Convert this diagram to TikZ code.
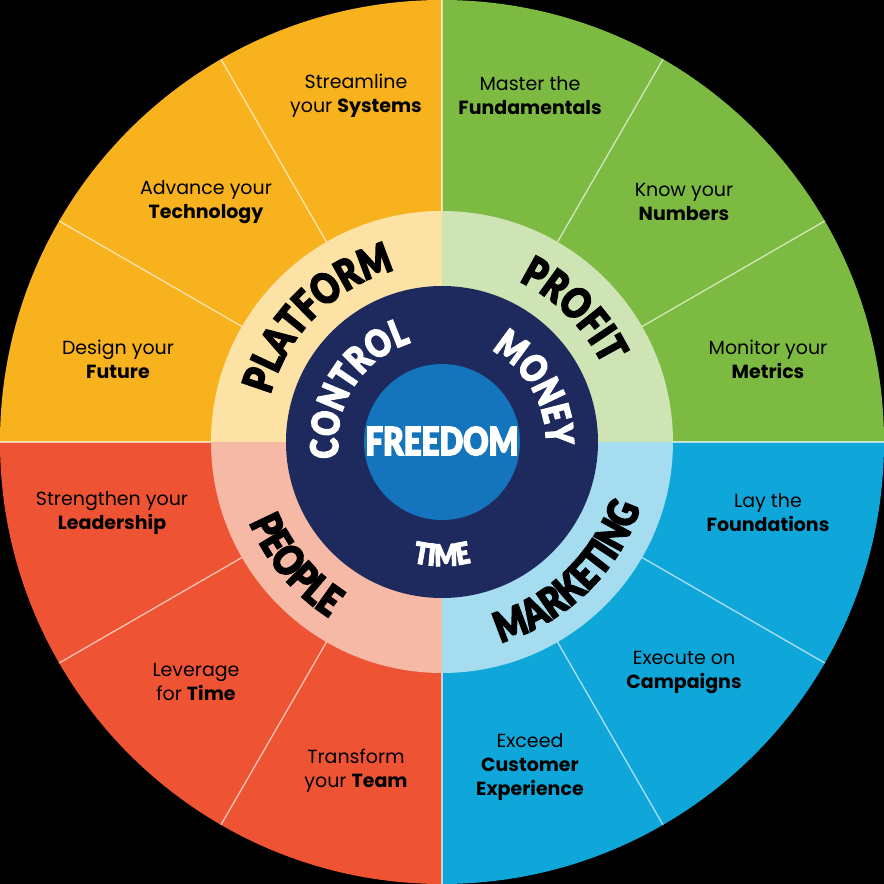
\documentclass[tikz,border=0pt]{standalone}
\usepackage{fontspec}
\setmainfont{Poppins}
\newfontfamily\headfont{Lato Black}[FakeStretch=0.8, FakeBold=3.2]
\usepackage{xcolor}
\usetikzlibrary{decorations.text}

\definecolor{platformcol}{RGB}{247,178,30}
\definecolor{profitcol}{RGB}{125,186,66}
\definecolor{marketcol}{RGB}{15,167,218}
\definecolor{peoplecol}{RGB}{238,84,52}
\definecolor{platformlt}{RGB}{252,226,165}
\definecolor{profitlt}{RGB}{207,228,181}
\definecolor{marketlt}{RGB}{165,220,240}
\definecolor{peoplelt}{RGB}{246,185,166}
\definecolor{navy}{RGB}{30,42,93}
\definecolor{freecol}{RGB}{20,117,188}

\begin{document}
\begin{tikzpicture}[x=1pt,y=1pt]

\tikzstyle{label} = [align=center, text=black, font=\fontsize{19}{24}\selectfont]
\tikzstyle{divider} = [white, opacity=0.65, line width=1.3pt]
\tikzstyle{ringword} = [decorate, decoration={text along path, text align=center}]

% background and bounding box
\fill[black] (-442,-442) rectangle (442,442);
\useasboundingbox (-442,-442) rectangle (442,442);

% outer quadrants
\fill[profitcol] (0,0) -- (0:442) arc (0:90:442) -- cycle;
\fill[platformcol] (0,0) -- (90:442) arc (90:180:442) -- cycle;
\fill[peoplecol] (0,0) -- (180:442) arc (180:270:442) -- cycle;
\fill[marketcol] (0,0) -- (270:442) arc (270:360:442) -- cycle;
\foreach \a in {0,30,...,330}
  \draw[divider] (\a:231) -- (\a:442);

% inner ring
\fill[profitlt] (0,0) -- (0:231) arc (0:90:231) -- cycle;
\fill[platformlt] (0,0) -- (90:231) arc (90:180:231) -- cycle;
\fill[peoplelt] (0,0) -- (180:231) arc (180:270:231) -- cycle;
\fill[marketlt] (0,0) -- (270:231) arc (270:360:231) -- cycle;
\fill[navy] (0,0) circle (156);
\fill[freecol] (0,0) circle (78);

% ring words
\path[ringword, decoration={text={|\headfont\fontsize{42}{42}\selectfont|PLATFORM}}] (175:178) arc (175:95:178);
\path[ringword, decoration={text={|\headfont\fontsize{42}{42}\selectfont|PROFIT}}] (85:178) arc (85:5:178);
\path[ringword, decoration={text={|\headfont\fontsize{42}{42}\selectfont|PEOPLE}}] (180:209) arc (180:260:209);
\path[ringword, decoration={text={|\headfont\fontsize{42}{42}\selectfont|MARKETING}}] (274:209) arc (274:354:209);
\path[ringword, decoration={text={|\headfont\fontsize{38}{38}\selectfont\color{white}|CONTROL}}] (193:104) arc (193:103:104);
\path[ringword, decoration={text={|\headfont\fontsize{38}{38}\selectfont\color{white}|MONEY}}] (75:104) arc (75:-15:104);
\path[ringword, decoration={text={|\headfont\fontsize{30}{30}\selectfont\color{white}|TIME}}] (235:124) arc (235:305:124);
\node[text=white, font=\headfont\fontsize{39}{39}\selectfont] (freedom) at (0,1) {FREEDOM};

% segment labels
\node[label] (systems) at (-86,346) {Streamline\\your \textbf{Systems}};
\node[label] (technology) at (-236,240) {Advance your\\\textbf{Technology}};
\node[label] (future) at (-324,83) {Design your\\\textbf{Future}};
\node[label] (fundamentals) at (88,346) {Master the\\\textbf{Fundamentals}};
\node[label] (numbers) at (242,240) {Know your\\\textbf{Numbers}};
\node[label] (metrics) at (326,83) {Monitor your\\\textbf{Metrics}};
\node[label] (foundations) at (326,-71) {Lay the\\\textbf{Foundations}};
\node[label] (campaigns) at (242,-230) {Execute on\\\textbf{Campaigns}};
\node[label] (customer) at (88,-325) {Exceed\\\textbf{Customer}\\\textbf{Experience}};
\node[label] (leadership) at (-330,-71) {Strengthen your\\\textbf{Leadership}};
\node[label] (leverage) at (-246,-240) {Leverage\\for \textbf{Time}};
\node[label] (team) at (-86,-329) {Transform\\your \textbf{Team}};

\end{tikzpicture}
\end{document}
